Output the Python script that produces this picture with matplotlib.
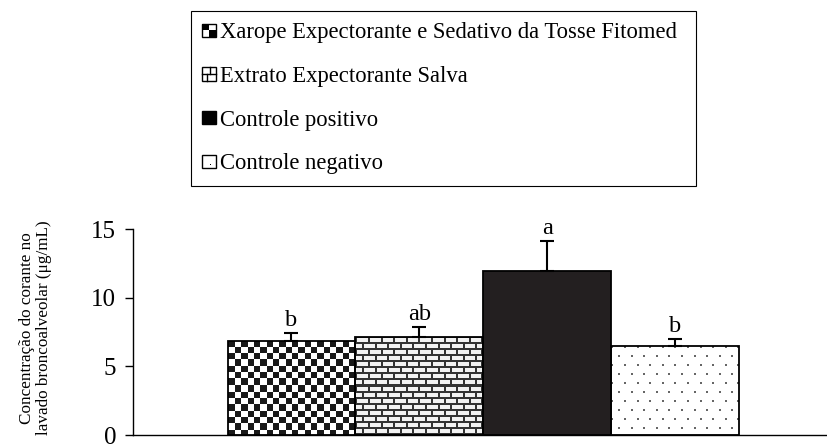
import numpy as np
import matplotlib
matplotlib.use('Agg')
import matplotlib.pyplot as plt
from matplotlib.patches import Patch, Rectangle
from matplotlib.legend_handler import HandlerBase

plt.rcParams['font.family'] = ['Liberation Serif', 'DejaVu Serif']

# --- Data ---
groups = ['Xarope Expectorante e Sedativo da Tosse Fitomed',
          'Extrato Expectorante Salva',
          'Controle positivo',
          'Controle negativo']
means = [6.85, 7.15, 11.95, 6.45]
errors = [0.55, 0.7, 2.15, 0.55]
letters = ['b', 'ab', 'a', 'b']
textures = ['checker', 'brick', 'solid', 'dots']


def make_texture(kind, w, h):
    yy, xx = np.mgrid[0:h, 0:w]
    img = np.ones((h, w, 3))
    if kind == 'checker':
        on = ((xx / 6.35).astype(int) + (yy / 6.3).astype(int)) % 2 == 0
        img[on] = 0.1
    elif kind == 'brick':
        img[:] = 0.95
        row = (yy // 6)
        mortar = (yy % 6 < 2) | (((xx + (row % 2) * 6) % 12.6) < 2)
        img[mortar] = 0.2
    elif kind == 'solid':
        img[:] = np.array([35, 31, 32]) / 255
    elif kind == 'dots':
        row = yy // 9
        dot = ((yy % 9) < 2) & (((xx + (row % 2) * 6) % 12.6) < 2)
        img[dot] = 0.4
    return img


class IconHandler(HandlerBase):
    def __init__(self, kind):
        super().__init__()
        self.kind = kind

    def create_artists(self, legend, orig_handle, xdescent, ydescent,
                       width, height, fontsize, trans):
        s = width
        x0 = -xdescent
        y0 = -ydescent + (height - s) / 2
        arts = []
        face = 'black' if self.kind == 'solid' else 'white'
        arts.append(Rectangle((x0, y0), s, s, facecolor=face,
                              edgecolor='black', lw=1.0, transform=trans))
        if self.kind == 'checker':
            h2 = s / 2
            arts.append(Rectangle((x0, y0 + h2), h2, h2, facecolor='black', lw=0, transform=trans))
            arts.append(Rectangle((x0 + h2, y0), h2, h2, facecolor='black', lw=0, transform=trans))
        elif self.kind == 'brick':
            arts.append(plt.Line2D([x0, x0 + s], [y0 + s / 2] * 2, color='black', lw=1, transform=trans))
            arts.append(plt.Line2D([x0 + 0.6 * s] * 2, [y0 + s / 2, y0 + s], color='black', lw=1, transform=trans))
            arts.append(plt.Line2D([x0 + 0.35 * s] * 2, [y0, y0 + s / 2], color='black', lw=1, transform=trans))
        elif self.kind == 'dots':
            arts.append(Rectangle((x0 + 0.55 * s, y0 + 0.2 * s), 0.12 * s, 0.12 * s,
                                  facecolor='black', lw=0, transform=trans))
        return arts


fig = plt.figure(figsize=(8.28, 4.45), dpi=100)
ax = fig.add_axes([133 / 828, 10 / 445, 694 / 828, 206 / 445])

x = np.arange(len(groups))
ax.set_xlim(-1.24, 4.19)
ax.set_ylim(0, 15)

bars = ax.bar(x, means, width=1.0, facecolor='none', edgecolor='black',
              linewidth=1.3, zorder=3)

for bar, kind in zip(bars, textures):
    bx, bw, bh = bar.get_x(), bar.get_width(), bar.get_height()
    p = ax.transData.transform([[bx, 0], [bx + bw, bh]])
    wpx = int(round(abs(p[1, 0] - p[0, 0])))
    hpx = int(round(abs(p[1, 1] - p[0, 1])))
    im = ax.imshow(make_texture(kind, wpx, hpx), extent=(bx, bx + bw, 0, bh),
                   aspect='auto', interpolation='nearest', zorder=1)
    im.set_clip_path(bar)

ax.set_xlim(-1.24, 4.19)
ax.set_ylim(0, 15)

ax.errorbar(x, means, yerr=[np.zeros(len(means)), errors], fmt='none',
            ecolor='black', elinewidth=1.5, capsize=4.7, capthick=1.5, zorder=4)

for xi, m, e, lab in zip(x, means, errors, letters):
    ax.annotate(lab, (xi, m + e), xytext=(0, 1.5), textcoords='offset points',
                ha='center', va='bottom', fontsize=17.5)

ax.spines['top'].set_visible(False)
ax.spines['right'].set_visible(False)
ax.spines['left'].set_linewidth(1.0)
ax.spines['bottom'].set_linewidth(1.0)
ax.set_xticks([])
ax.set_yticks([0, 5, 10, 15])
ax.tick_params(axis='y', direction='out', length=6, width=1.0, pad=6, labelsize=18)

ax.set_ylabel('Concentração do corante no\nlavado broncoalveolar (μg/mL)',
              fontsize=12.3, linespacing=1.15)
ax.yaxis.set_label_coords(-0.116, 0.52)

proxies = [Patch(label=g) for g in groups]
fig.legend(handles=proxies, labels=groups,
           handler_map={p: IconHandler(k) for p, k in zip(proxies, textures)},
           loc='upper left', bbox_to_anchor=(191 / 828, 1 - 11 / 445, 505 / 828, 0),
           mode='expand',
           fontsize=16.3, frameon=True, fancybox=False, edgecolor='black',
           framealpha=1, handlelength=0.6, handleheight=0.7, handletextpad=0.2,
           labelspacing=1.0, borderpad=0.5, borderaxespad=0)
fig.legends[0].get_frame().set_linewidth(0.8)

fig.savefig('out.png', dpi=100)
